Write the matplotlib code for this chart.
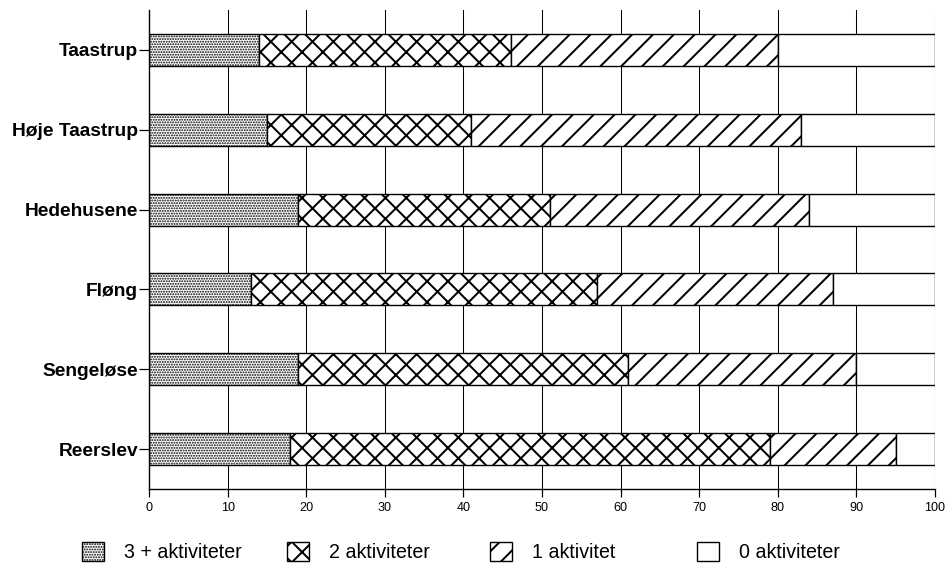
import numpy as np
import matplotlib
matplotlib.use('Agg')
import matplotlib.pyplot as plt

# Andel (%) af elever fordelt efter antal fritidsaktiviteter
omraader = ['Taastrup', 'Høje Taastrup', 'Hedehusene', 'Fløng', 'Sengeløse', 'Reerslev']
aktiv_3 = [14, 15, 19, 13, 19, 18]
aktiv_2 = [32, 26, 32, 44, 42, 61]
aktiv_1 = [34, 42, 33, 30, 29, 16]
aktiv_0 = [20, 17, 16, 13, 10, 5]
serie_navne = ['3 + aktiviteter', '2 aktiviteter', '1 aktivitet', '0 aktiviteter']
x_ticks = [0, 10, 20, 30, 40, 50, 60, 70, 80, 90, 100]

plt.rcParams['font.family'] = ['Liberation Sans', 'DejaVu Sans']
plt.rcParams['hatch.color'] = 'black'

DPI = 125
W, H = 948, 568
fig = plt.figure(figsize=(W / DPI, H / DPI), dpi=DPI)
ax = fig.add_axes([149 / W, 1 - 489 / H, (935 - 149) / W, (489 - 10) / H])

y = np.arange(len(omraader))
left = np.zeros(len(omraader))
hatches = ['........', 'xx', '//', '']
hatch_lw = [0.75, 1.15, 1.15, 1.0]
for values, navn, h, hlw in zip([aktiv_3, aktiv_2, aktiv_1, aktiv_0], serie_navne, hatches, hatch_lw):
    plt.rcParams['hatch.linewidth'] = hlw
    bars = ax.barh(y, values, left=left, height=0.4, color='white', edgecolor='black',
                   hatch=h, linewidth=0.8, label=navn, zorder=2)
    for b in bars:
        if hasattr(b, 'set_hatch_linewidth'):
            b.set_hatch_linewidth(hlw)
    left += np.array(values)

ax.set_ylim(len(omraader) - 0.5, -0.5)
ax.set_xlim(0, 100)
ax.set_xticks(x_ticks)
ax.set_yticks(y)
ax.set_yticklabels(omraader, fontweight='bold', fontsize=11)

# lodrette gitterlinjer
for xv in x_ticks[1:]:
    ax.axvline(xv, color='black', lw=0.6, zorder=1)

ax.spines['top'].set_visible(False)
ax.spines['right'].set_visible(False)
ax.spines['left'].set_linewidth(0.8)
ax.spines['bottom'].set_linewidth(0.8)
ax.tick_params(axis='y', length=5.8, width=0.7, pad=0.5)
ax.tick_params(axis='x', length=4.6, width=0.7, pad=3, labelsize=7.3)

# legende, en pr. serie for at få lige store felter
handles, labels = ax.get_legend_handles_labels()
leg_x = [82, 287, 490, 697]
for hnd, lab, lx, hlw in zip(handles, labels, leg_x, hatch_lw):
    plt.rcParams['hatch.linewidth'] = hlw
    lg = fig.legend([hnd], [lab], loc='center left', bbox_to_anchor=(lx / W, 1 - 552 / H),
                    frameon=False, handlelength=1.1, handleheight=1.15, handletextpad=1.05,
                    borderpad=0, borderaxespad=0, fontsize=11.3)
    for p in lg.get_patches():
        if hasattr(p, 'set_hatch_linewidth'):
            p.set_hatch_linewidth(hlw)

fig.savefig('out.png', dpi=DPI)
